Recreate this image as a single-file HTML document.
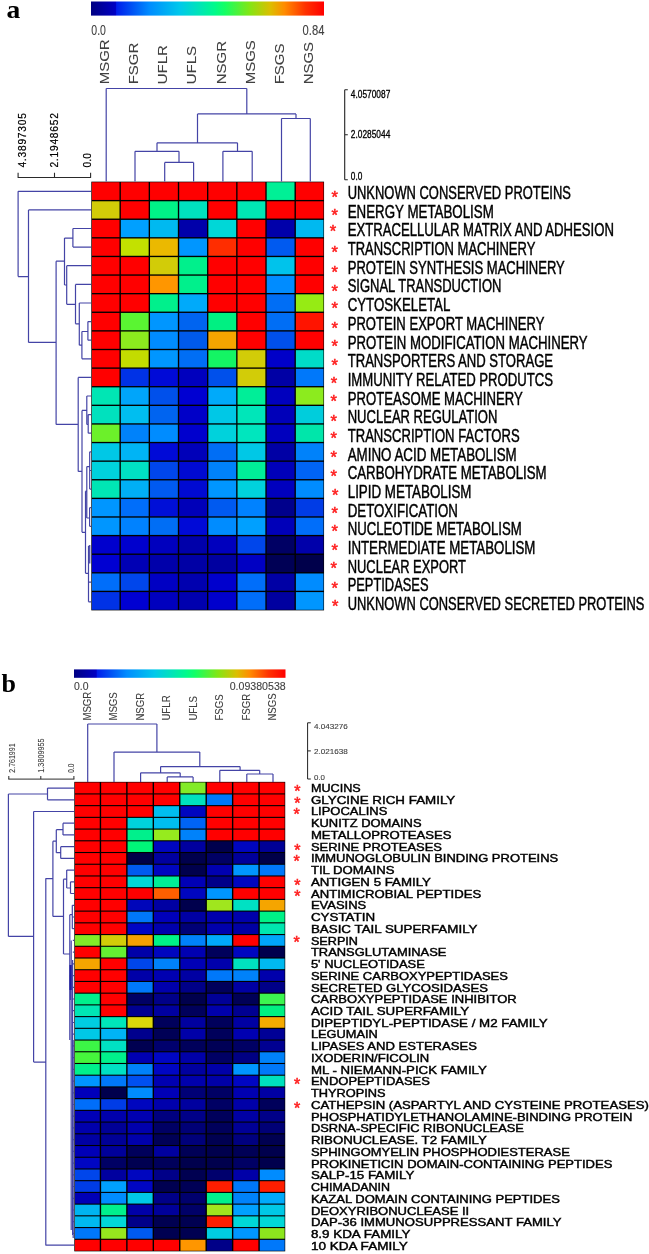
<!DOCTYPE html><html><head><meta charset="utf-8"><title>Heatmaps</title>
<style>html,body{margin:0;padding:0;background:#fff}svg{display:block}text{font-family:"Liberation Sans",sans-serif;fill:#000;stroke:#000;stroke-width:.3px}.ser{font-family:"Liberation Serif",serif;font-weight:bold;fill:#000;stroke:none}.st{fill:#ff2020;stroke:#ff2020;stroke-width:.55px}.sm{stroke-width:.2px}.gr{fill:#404040;stroke:#404040;stroke-width:.1px}.la{stroke-width:.45px}.bl{stroke-width:.42px}</style></head><body>
<svg width="649" height="1254" viewBox="0 0 649 1254">
<defs>
<linearGradient id="jet" x1="0" x2="1" y1="0" y2="0">
<stop offset="0.000" stop-color="#000082"/>
<stop offset="0.105" stop-color="#0000c3"/>
<stop offset="0.110" stop-color="#001eeb"/>
<stop offset="0.250" stop-color="#008cff"/>
<stop offset="0.380" stop-color="#00c8eb"/>
<stop offset="0.470" stop-color="#00e6b4"/>
<stop offset="0.530" stop-color="#00fa8c"/>
<stop offset="0.575" stop-color="#14ff64"/>
<stop offset="0.680" stop-color="#82e614"/>
<stop offset="0.770" stop-color="#dcbe00"/>
<stop offset="0.830" stop-color="#ff8c00"/>
<stop offset="0.920" stop-color="#ff3200"/>
<stop offset="1.000" stop-color="#ff0000"/>
</linearGradient></defs>
<rect width="649" height="1254" fill="#fff"/>
<text class="ser" x="6.5" y="17.7" font-size="25.2" textLength="13.8" lengthAdjust="spacingAndGlyphs">a</text>
<rect x="91" y="1.5" width="233" height="14.1" fill="url(#jet)"/>
<text class="gr" x="91.3" y="35.3" font-size="15.2" textLength="14.6" lengthAdjust="spacingAndGlyphs">0.0</text>
<text class="gr" x="302.6" y="35.3" font-size="15.2" textLength="21.8" lengthAdjust="spacingAndGlyphs">0.84</text>
<text class="gr" transform="translate(108.8 84.3) rotate(-90)" font-size="12.8" textLength="44.9" lengthAdjust="spacingAndGlyphs">MSGR</text>
<text class="gr" transform="translate(138.0 84.3) rotate(-90)" font-size="12.8" textLength="41.6" lengthAdjust="spacingAndGlyphs">FSGR</text>
<text class="gr" transform="translate(167.1 84.3) rotate(-90)" font-size="12.8" textLength="39.1" lengthAdjust="spacingAndGlyphs">UFLR</text>
<text class="gr" transform="translate(196.3 84.3) rotate(-90)" font-size="12.8" textLength="38.3" lengthAdjust="spacingAndGlyphs">UFLS</text>
<text class="gr" transform="translate(225.5 84.3) rotate(-90)" font-size="12.8" textLength="43.3" lengthAdjust="spacingAndGlyphs">NSGR</text>
<text class="gr" transform="translate(254.6 84.3) rotate(-90)" font-size="12.8" textLength="44.1" lengthAdjust="spacingAndGlyphs">MSGS</text>
<text class="gr" transform="translate(283.8 84.3) rotate(-90)" font-size="12.8" textLength="40.8" lengthAdjust="spacingAndGlyphs">FSGS</text>
<text class="gr" transform="translate(313.0 84.3) rotate(-90)" font-size="12.8" textLength="42.4" lengthAdjust="spacingAndGlyphs">NSGS</text>
<g>
<rect x="91.30" y="181.65" width="232.76" height="428.73" fill="#000"/>
<rect x="91.90" y="182.25" width="27.59" height="17.69" fill="#ff0000"/>
<rect x="120.84" y="182.25" width="27.82" height="17.69" fill="#ff0000"/>
<rect x="150.02" y="182.25" width="27.82" height="17.69" fill="#ff0000"/>
<rect x="179.19" y="182.25" width="27.82" height="17.69" fill="#ff0000"/>
<rect x="208.36" y="182.25" width="27.82" height="17.69" fill="#ff0000"/>
<rect x="237.53" y="182.25" width="27.82" height="17.69" fill="#ff0000"/>
<rect x="266.69" y="182.25" width="27.82" height="17.69" fill="#00f096"/>
<rect x="295.87" y="182.25" width="27.60" height="17.69" fill="#ff0000"/>
<rect x="91.90" y="201.29" width="27.59" height="17.26" fill="#d2cc08"/>
<rect x="120.84" y="201.29" width="27.82" height="17.26" fill="#ff0000"/>
<rect x="150.02" y="201.29" width="27.82" height="17.26" fill="#00f287"/>
<rect x="179.19" y="201.29" width="27.82" height="17.26" fill="#00e1be"/>
<rect x="208.36" y="201.29" width="27.82" height="17.26" fill="#ff0000"/>
<rect x="237.53" y="201.29" width="27.82" height="17.26" fill="#00e6b4"/>
<rect x="266.69" y="201.29" width="27.82" height="17.26" fill="#ff0000"/>
<rect x="295.87" y="201.29" width="27.60" height="17.26" fill="#ff0000"/>
<rect x="91.90" y="219.90" width="27.59" height="17.26" fill="#ff0000"/>
<rect x="120.84" y="219.90" width="27.82" height="17.26" fill="#00a0ff"/>
<rect x="150.02" y="219.90" width="27.82" height="17.26" fill="#00b9f0"/>
<rect x="179.19" y="219.90" width="27.82" height="17.26" fill="#0000aa"/>
<rect x="208.36" y="219.90" width="27.82" height="17.26" fill="#00d7d7"/>
<rect x="237.53" y="219.90" width="27.82" height="17.26" fill="#ff0000"/>
<rect x="266.69" y="219.90" width="27.82" height="17.26" fill="#0000aa"/>
<rect x="295.87" y="219.90" width="27.60" height="17.26" fill="#00b9f0"/>
<rect x="91.90" y="238.50" width="27.59" height="17.26" fill="#ff0000"/>
<rect x="120.84" y="238.50" width="27.82" height="17.26" fill="#c3e100"/>
<rect x="150.02" y="238.50" width="27.82" height="17.26" fill="#ebb900"/>
<rect x="179.19" y="238.50" width="27.82" height="17.26" fill="#0096ff"/>
<rect x="208.36" y="238.50" width="27.82" height="17.26" fill="#ff2d00"/>
<rect x="237.53" y="238.50" width="27.82" height="17.26" fill="#ff0000"/>
<rect x="266.69" y="238.50" width="27.82" height="17.26" fill="#005af0"/>
<rect x="295.87" y="238.50" width="27.60" height="17.26" fill="#ff0000"/>
<rect x="91.90" y="257.12" width="27.59" height="17.26" fill="#ff0000"/>
<rect x="120.84" y="257.12" width="27.82" height="17.26" fill="#ff0000"/>
<rect x="150.02" y="257.12" width="27.82" height="17.26" fill="#d2cc08"/>
<rect x="179.19" y="257.12" width="27.82" height="17.26" fill="#00f08c"/>
<rect x="208.36" y="257.12" width="27.82" height="17.26" fill="#ff0000"/>
<rect x="237.53" y="257.12" width="27.82" height="17.26" fill="#ff0000"/>
<rect x="266.69" y="257.12" width="27.82" height="17.26" fill="#00c3eb"/>
<rect x="295.87" y="257.12" width="27.60" height="17.26" fill="#ff0000"/>
<rect x="91.90" y="275.73" width="27.59" height="17.26" fill="#ff0000"/>
<rect x="120.84" y="275.73" width="27.82" height="17.26" fill="#ff0000"/>
<rect x="150.02" y="275.73" width="27.82" height="17.26" fill="#ff9600"/>
<rect x="179.19" y="275.73" width="27.82" height="17.26" fill="#00f08c"/>
<rect x="208.36" y="275.73" width="27.82" height="17.26" fill="#ff0000"/>
<rect x="237.53" y="275.73" width="27.82" height="17.26" fill="#ff0000"/>
<rect x="266.69" y="275.73" width="27.82" height="17.26" fill="#008cff"/>
<rect x="295.87" y="275.73" width="27.60" height="17.26" fill="#ff0000"/>
<rect x="91.90" y="294.33" width="27.59" height="17.26" fill="#ff0000"/>
<rect x="120.84" y="294.33" width="27.82" height="17.26" fill="#ff0000"/>
<rect x="150.02" y="294.33" width="27.82" height="17.26" fill="#00f08c"/>
<rect x="179.19" y="294.33" width="27.82" height="17.26" fill="#00aafa"/>
<rect x="208.36" y="294.33" width="27.82" height="17.26" fill="#ff0000"/>
<rect x="237.53" y="294.33" width="27.82" height="17.26" fill="#ff0000"/>
<rect x="266.69" y="294.33" width="27.82" height="17.26" fill="#006ef5"/>
<rect x="295.87" y="294.33" width="27.60" height="17.26" fill="#96eb14"/>
<rect x="91.90" y="312.94" width="27.59" height="17.26" fill="#ff0000"/>
<rect x="120.84" y="312.94" width="27.82" height="17.26" fill="#5af532"/>
<rect x="150.02" y="312.94" width="27.82" height="17.26" fill="#0096ff"/>
<rect x="179.19" y="312.94" width="27.82" height="17.26" fill="#0064f0"/>
<rect x="208.36" y="312.94" width="27.82" height="17.26" fill="#00f082"/>
<rect x="237.53" y="312.94" width="27.82" height="17.26" fill="#ff0000"/>
<rect x="266.69" y="312.94" width="27.82" height="17.26" fill="#006ef5"/>
<rect x="295.87" y="312.94" width="27.60" height="17.26" fill="#ff1400"/>
<rect x="91.90" y="331.56" width="27.59" height="17.26" fill="#ff0000"/>
<rect x="120.84" y="331.56" width="27.82" height="17.26" fill="#8ceb1e"/>
<rect x="150.02" y="331.56" width="27.82" height="17.26" fill="#008cff"/>
<rect x="179.19" y="331.56" width="27.82" height="17.26" fill="#005aeb"/>
<rect x="208.36" y="331.56" width="27.82" height="17.26" fill="#f5a500"/>
<rect x="237.53" y="331.56" width="27.82" height="17.26" fill="#ff0000"/>
<rect x="266.69" y="331.56" width="27.82" height="17.26" fill="#0050eb"/>
<rect x="295.87" y="331.56" width="27.60" height="17.26" fill="#ff0000"/>
<rect x="91.90" y="350.17" width="27.59" height="17.26" fill="#ff0000"/>
<rect x="120.84" y="350.17" width="27.82" height="17.26" fill="#c3dc00"/>
<rect x="150.02" y="350.17" width="27.82" height="17.26" fill="#0096ff"/>
<rect x="179.19" y="350.17" width="27.82" height="17.26" fill="#006ef5"/>
<rect x="208.36" y="350.17" width="27.82" height="17.26" fill="#14f564"/>
<rect x="237.53" y="350.17" width="27.82" height="17.26" fill="#d2cc08"/>
<rect x="266.69" y="350.17" width="27.82" height="17.26" fill="#0000c8"/>
<rect x="295.87" y="350.17" width="27.60" height="17.26" fill="#00dcc8"/>
<rect x="91.90" y="368.78" width="27.59" height="17.26" fill="#ff0000"/>
<rect x="120.84" y="368.78" width="27.82" height="17.26" fill="#0032e6"/>
<rect x="150.02" y="368.78" width="27.82" height="17.26" fill="#000ad7"/>
<rect x="179.19" y="368.78" width="27.82" height="17.26" fill="#0000be"/>
<rect x="208.36" y="368.78" width="27.82" height="17.26" fill="#0050eb"/>
<rect x="237.53" y="368.78" width="27.82" height="17.26" fill="#d2cc08"/>
<rect x="266.69" y="368.78" width="27.82" height="17.26" fill="#0000a5"/>
<rect x="295.87" y="368.78" width="27.60" height="17.26" fill="#0078fa"/>
<rect x="91.90" y="387.38" width="27.59" height="17.26" fill="#00e6b4"/>
<rect x="120.84" y="387.38" width="27.82" height="17.26" fill="#00a5fa"/>
<rect x="150.02" y="387.38" width="27.82" height="17.26" fill="#0050eb"/>
<rect x="179.19" y="387.38" width="27.82" height="17.26" fill="#0000d2"/>
<rect x="208.36" y="387.38" width="27.82" height="17.26" fill="#00aafa"/>
<rect x="237.53" y="387.38" width="27.82" height="17.26" fill="#00ee98"/>
<rect x="266.69" y="387.38" width="27.82" height="17.26" fill="#0000be"/>
<rect x="295.87" y="387.38" width="27.60" height="17.26" fill="#8ceb1e"/>
<rect x="91.90" y="406.00" width="27.59" height="17.26" fill="#00e1be"/>
<rect x="120.84" y="406.00" width="27.82" height="17.26" fill="#00bef0"/>
<rect x="150.02" y="406.00" width="27.82" height="17.26" fill="#0064f0"/>
<rect x="179.19" y="406.00" width="27.82" height="17.26" fill="#0000c8"/>
<rect x="208.36" y="406.00" width="27.82" height="17.26" fill="#00c8e6"/>
<rect x="237.53" y="406.00" width="27.82" height="17.26" fill="#00e6b9"/>
<rect x="266.69" y="406.00" width="27.82" height="17.26" fill="#0000b9"/>
<rect x="295.87" y="406.00" width="27.60" height="17.26" fill="#00cddc"/>
<rect x="91.90" y="424.61" width="27.59" height="17.26" fill="#6cf02a"/>
<rect x="120.84" y="424.61" width="27.82" height="17.26" fill="#0082fa"/>
<rect x="150.02" y="424.61" width="27.82" height="17.26" fill="#008cff"/>
<rect x="179.19" y="424.61" width="27.82" height="17.26" fill="#0000cd"/>
<rect x="208.36" y="424.61" width="27.82" height="17.26" fill="#00d2dc"/>
<rect x="237.53" y="424.61" width="27.82" height="17.26" fill="#00e6be"/>
<rect x="266.69" y="424.61" width="27.82" height="17.26" fill="#0000be"/>
<rect x="295.87" y="424.61" width="27.60" height="17.26" fill="#00e6aa"/>
<rect x="91.90" y="443.21" width="27.59" height="17.26" fill="#00c8e6"/>
<rect x="120.84" y="443.21" width="27.82" height="17.26" fill="#00b4f5"/>
<rect x="150.02" y="443.21" width="27.82" height="17.26" fill="#000ad7"/>
<rect x="179.19" y="443.21" width="27.82" height="17.26" fill="#0000b9"/>
<rect x="208.36" y="443.21" width="27.82" height="17.26" fill="#006ef5"/>
<rect x="237.53" y="443.21" width="27.82" height="17.26" fill="#00c8e6"/>
<rect x="266.69" y="443.21" width="27.82" height="17.26" fill="#0000a5"/>
<rect x="295.87" y="443.21" width="27.60" height="17.26" fill="#0082fa"/>
<rect x="91.90" y="461.82" width="27.59" height="17.26" fill="#00d2dc"/>
<rect x="120.84" y="461.82" width="27.82" height="17.26" fill="#00e1c3"/>
<rect x="150.02" y="461.82" width="27.82" height="17.26" fill="#0046eb"/>
<rect x="179.19" y="461.82" width="27.82" height="17.26" fill="#000ad2"/>
<rect x="208.36" y="461.82" width="27.82" height="17.26" fill="#0082fa"/>
<rect x="237.53" y="461.82" width="27.82" height="17.26" fill="#00ee98"/>
<rect x="266.69" y="461.82" width="27.82" height="17.26" fill="#0000b9"/>
<rect x="295.87" y="461.82" width="27.60" height="17.26" fill="#0064f5"/>
<rect x="91.90" y="480.44" width="27.59" height="17.26" fill="#00e6b4"/>
<rect x="120.84" y="480.44" width="27.82" height="17.26" fill="#00aff5"/>
<rect x="150.02" y="480.44" width="27.82" height="17.26" fill="#005af0"/>
<rect x="179.19" y="480.44" width="27.82" height="17.26" fill="#000ad2"/>
<rect x="208.36" y="480.44" width="27.82" height="17.26" fill="#0096ff"/>
<rect x="237.53" y="480.44" width="27.82" height="17.26" fill="#00d2dc"/>
<rect x="266.69" y="480.44" width="27.82" height="17.26" fill="#0000be"/>
<rect x="295.87" y="480.44" width="27.60" height="17.26" fill="#008cff"/>
<rect x="91.90" y="499.05" width="27.59" height="17.26" fill="#0096ff"/>
<rect x="120.84" y="499.05" width="27.82" height="17.26" fill="#006efa"/>
<rect x="150.02" y="499.05" width="27.82" height="17.26" fill="#000fd7"/>
<rect x="179.19" y="499.05" width="27.82" height="17.26" fill="#0000b9"/>
<rect x="208.36" y="499.05" width="27.82" height="17.26" fill="#005af0"/>
<rect x="237.53" y="499.05" width="27.82" height="17.26" fill="#0082ff"/>
<rect x="266.69" y="499.05" width="27.82" height="17.26" fill="#00008c"/>
<rect x="295.87" y="499.05" width="27.60" height="17.26" fill="#003ce6"/>
<rect x="91.90" y="517.65" width="27.59" height="17.26" fill="#0096ff"/>
<rect x="120.84" y="517.65" width="27.82" height="17.26" fill="#0082ff"/>
<rect x="150.02" y="517.65" width="27.82" height="17.26" fill="#006ef5"/>
<rect x="179.19" y="517.65" width="27.82" height="17.26" fill="#000ad7"/>
<rect x="208.36" y="517.65" width="27.82" height="17.26" fill="#008cff"/>
<rect x="237.53" y="517.65" width="27.82" height="17.26" fill="#00a0ff"/>
<rect x="266.69" y="517.65" width="27.82" height="17.26" fill="#0000b9"/>
<rect x="295.87" y="517.65" width="27.60" height="17.26" fill="#006efa"/>
<rect x="91.90" y="536.26" width="27.59" height="17.26" fill="#0000cd"/>
<rect x="120.84" y="536.26" width="27.82" height="17.26" fill="#0000cd"/>
<rect x="150.02" y="536.26" width="27.82" height="17.26" fill="#0000be"/>
<rect x="179.19" y="536.26" width="27.82" height="17.26" fill="#0000aa"/>
<rect x="208.36" y="536.26" width="27.82" height="17.26" fill="#0000be"/>
<rect x="237.53" y="536.26" width="27.82" height="17.26" fill="#0046eb"/>
<rect x="266.69" y="536.26" width="27.82" height="17.26" fill="#000064"/>
<rect x="295.87" y="536.26" width="27.60" height="17.26" fill="#0000aa"/>
<rect x="91.90" y="554.88" width="27.59" height="17.26" fill="#0000d2"/>
<rect x="120.84" y="554.88" width="27.82" height="17.26" fill="#0000b4"/>
<rect x="150.02" y="554.88" width="27.82" height="17.26" fill="#0000aa"/>
<rect x="179.19" y="554.88" width="27.82" height="17.26" fill="#0000a5"/>
<rect x="208.36" y="554.88" width="27.82" height="17.26" fill="#0000a0"/>
<rect x="237.53" y="554.88" width="27.82" height="17.26" fill="#0000c3"/>
<rect x="266.69" y="554.88" width="27.82" height="17.26" fill="#000055"/>
<rect x="295.87" y="554.88" width="27.60" height="17.26" fill="#00004b"/>
<rect x="91.90" y="573.48" width="27.59" height="17.26" fill="#006efa"/>
<rect x="120.84" y="573.48" width="27.82" height="17.26" fill="#0046eb"/>
<rect x="150.02" y="573.48" width="27.82" height="17.26" fill="#0000c3"/>
<rect x="179.19" y="573.48" width="27.82" height="17.26" fill="#0000af"/>
<rect x="208.36" y="573.48" width="27.82" height="17.26" fill="#0000cd"/>
<rect x="237.53" y="573.48" width="27.82" height="17.26" fill="#006efa"/>
<rect x="266.69" y="573.48" width="27.82" height="17.26" fill="#0000a5"/>
<rect x="295.87" y="573.48" width="27.60" height="17.26" fill="#008cff"/>
<rect x="91.90" y="592.09" width="27.59" height="17.69" fill="#0032e6"/>
<rect x="120.84" y="592.09" width="27.82" height="17.69" fill="#0000d2"/>
<rect x="150.02" y="592.09" width="27.82" height="17.69" fill="#0000be"/>
<rect x="179.19" y="592.09" width="27.82" height="17.69" fill="#0000af"/>
<rect x="208.36" y="592.09" width="27.82" height="17.69" fill="#0000cd"/>
<rect x="237.53" y="592.09" width="27.82" height="17.69" fill="#006efa"/>
<rect x="266.69" y="592.09" width="27.82" height="17.69" fill="#0000a0"/>
<rect x="295.87" y="592.09" width="27.60" height="17.69" fill="#0096ff"/>
</g>
<path d="M106.2 88.5L106.2 181.5M106.2 88.5L246.8 88.5M246.8 88.5L246.8 113.9M197.5 113.9L296.0 113.9M296.0 113.9L296.0 118.5M281.5 118.5L310.3 118.5M281.5 118.5L281.5 181.5M310.3 118.5L310.3 181.5M197.5 113.9L197.5 142.8M157.0 142.8L237.5 142.8M157.0 142.8L157.0 151.3M135.0 151.3L179.0 151.3M135.0 151.3L135.0 181.5M179.0 151.3L179.0 162.4M164.7 162.4L193.6 162.4M164.7 162.4L164.7 181.5M193.6 162.4L193.6 181.5M237.5 142.8L237.5 151.3M222.9 151.3L252.2 151.3M222.9 151.3L222.9 181.5M252.2 151.3L252.2 181.5" stroke="#4444a6" stroke-width="1.20" fill="none" opacity="1"/>
<path d="M18.1 191.3L91.0 191.3M18.1 191.3L18.1 276.6M18.1 276.6L28.5 276.6M28.5 209.9L28.5 342.4M28.5 209.9L91.0 209.9M72.9 228.5L91.0 228.5M72.9 247.1L91.0 247.1M72.9 228.5L72.9 247.1M64.5 238.1L72.9 238.1M64.5 238.1L64.5 285.0M56.1 261.2L64.5 261.2M56.1 261.2L56.1 424.4M28.5 342.4L56.1 342.4M66.7 265.7L91.0 265.7M66.7 265.7L66.7 304.3M64.5 285.0L66.7 285.0M75.5 284.4L91.0 284.4M75.5 284.4L75.5 323.8M66.7 304.3L75.5 304.3M79.3 303.0L91.0 303.0M79.3 303.0L79.3 345.2M75.5 323.8L79.3 323.8M79.3 345.2L81.9 345.2M81.9 331.5L81.9 358.8M81.9 358.8L91.0 358.8M81.9 331.5L87.9 331.5M87.9 321.6L87.9 340.2M87.9 321.6L91.0 321.6M87.9 340.2L91.0 340.2M56.1 424.4L78.2 424.4M78.2 377.4L78.2 471.4M78.2 377.4L91.0 377.4M78.2 471.4L82.0 471.4M82.0 410.4L82.0 532.3M82.0 410.4L86.8 410.4M86.8 396.0L86.8 424.5M86.8 396.0L91.0 396.0M86.8 424.5L88.2 424.5M88.2 414.6L88.2 433.2M88.2 414.6L91.0 414.6M88.2 433.2L91.0 433.2M82.0 532.3L85.5 532.3M85.5 491.2L85.5 573.3M85.5 491.2L86.8 491.2M86.8 466.6L86.8 518.0M86.8 466.6L89.7 466.6M89.7 451.8L89.7 489.1M89.7 451.8L91.0 451.8M89.7 470.5L91.0 470.5M89.7 489.1L91.0 489.1M86.8 518.0L89.6 518.0M89.6 507.7L89.6 526.3M89.6 507.7L91.0 507.7M89.6 526.3L91.0 526.3M85.5 573.3L88.5 573.3M88.5 546.0L88.5 601.8M88.5 546.0L89.8 546.0M89.8 544.9L89.8 563.5M88.5 601.8L91.0 601.8M88.5 582.1L91.0 582.1" stroke="#4444a6" stroke-width="1.20" fill="none" opacity="1"/>
<path d="M17.6 177.5L91.1 177.5M18.1 172.8L18.1 177.5M54.5 172.8L54.5 177.5M90.6 172.8L90.6 177.5" stroke="#2a2a2a" stroke-width="1.10" fill="none" opacity="1"/>
<text class="sm" transform="translate(26.0 167.6) rotate(-90)" font-size="10.2" textLength="54.5" lengthAdjust="spacing">4.3897305</text>
<text class="sm" transform="translate(58.4 167.6) rotate(-90)" font-size="10.2" textLength="54.5" lengthAdjust="spacing">2.1948652</text>
<text class="sm" transform="translate(90.9 167.6) rotate(-90)" font-size="10.2" textLength="14.5" lengthAdjust="spacing">0.0</text>
<path d="M344.7 89.8L344.7 179.8M344.7 89.8L347.8 89.8M344.7 134.7L347.8 134.7M344.7 179.8L347.8 179.8" stroke="#222" stroke-width="1.10" fill="none" opacity="1"/>
<text x="350.8" y="97.6" font-size="10" textLength="39.5" lengthAdjust="spacingAndGlyphs">4.0570087</text>
<text x="350.8" y="138.4" font-size="10" textLength="39.5" lengthAdjust="spacingAndGlyphs">2.0285044</text>
<text x="350.8" y="180.2" font-size="10" textLength="11.5" lengthAdjust="spacingAndGlyphs">0.0</text>
<text x="347.7" y="198.9" class="la" font-size="18" textLength="223.2" lengthAdjust="spacingAndGlyphs">UNKNOWN CONSERVED PROTEINS</text>
<text class="st" x="331.4" y="202.9" font-size="16.5">*</text>
<text x="347.7" y="217.6" class="la" font-size="18" textLength="146.1" lengthAdjust="spacingAndGlyphs">ENERGY METABOLISM</text>
<text class="st" x="331.4" y="220.5" font-size="16.5">*</text>
<text x="347.7" y="236.3" class="la" font-size="18" textLength="266.3" lengthAdjust="spacingAndGlyphs">EXTRACELLULAR MATRIX AND ADHESION</text>
<text class="st" x="329.8" y="237.1" font-size="16.5">*</text>
<text x="347.7" y="255.0" class="la" font-size="18" textLength="187.7" lengthAdjust="spacingAndGlyphs">TRANSCRIPTION MACHINERY</text>
<text class="st" x="331.4" y="257.8" font-size="16.5">*</text>
<text x="347.7" y="273.7" class="la" font-size="18" textLength="217.1" lengthAdjust="spacingAndGlyphs">PROTEIN SYNTHESIS MACHINERY</text>
<text class="st" x="331.4" y="278.0" font-size="16.5">*</text>
<text x="347.7" y="292.4" class="la" font-size="18" textLength="153.7" lengthAdjust="spacingAndGlyphs">SIGNAL TRANSDUCTION</text>
<text class="st" x="331.4" y="296.8" font-size="16.5">*</text>
<text x="347.7" y="311.1" class="la" font-size="18" textLength="102.6" lengthAdjust="spacingAndGlyphs">CYTOSKELETAL</text>
<text class="st" x="331.4" y="313.5" font-size="16.5">*</text>
<text x="347.7" y="329.8" class="la" font-size="18" textLength="196.8" lengthAdjust="spacingAndGlyphs">PROTEIN EXPORT MACHINERY</text>
<text class="st" x="331.4" y="333.6" font-size="16.5">*</text>
<text x="347.7" y="348.5" class="la" font-size="18" textLength="239.9" lengthAdjust="spacingAndGlyphs">PROTEIN MODIFICATION MACHINERY</text>
<text class="st" x="331.4" y="352.1" font-size="16.5">*</text>
<text x="347.7" y="367.2" class="la" font-size="18" textLength="205.4" lengthAdjust="spacingAndGlyphs">TRANSPORTERS AND STORAGE</text>
<text class="st" x="331.4" y="371.4" font-size="16.5">*</text>
<text x="347.7" y="385.8" class="la" font-size="18" textLength="205.4" lengthAdjust="spacingAndGlyphs">IMMUNITY RELATED PRODUTCS</text>
<text class="st" x="330.7" y="388.9" font-size="16.5">*</text>
<text x="347.7" y="404.5" class="la" font-size="18" textLength="175.0" lengthAdjust="spacingAndGlyphs">PROTEASOME MACHINERY</text>
<text class="st" x="330.6" y="406.7" font-size="16.5">*</text>
<text x="347.7" y="423.2" class="la" font-size="18" textLength="149.7" lengthAdjust="spacingAndGlyphs">NUCLEAR REGULATION</text>
<text class="st" x="330.5" y="426.7" font-size="16.5">*</text>
<text x="347.7" y="441.9" class="la" font-size="18" textLength="172.0" lengthAdjust="spacingAndGlyphs">TRANSCRIPTION FACTORS</text>
<text class="st" x="330.5" y="443.8" font-size="16.5">*</text>
<text x="347.7" y="460.6" class="la" font-size="18" textLength="169.0" lengthAdjust="spacingAndGlyphs">AMINO ACID METABOLISM</text>
<text class="st" x="330.5" y="462.6" font-size="16.5">*</text>
<text x="347.7" y="479.3" class="la" font-size="18" textLength="198.9" lengthAdjust="spacingAndGlyphs">CARBOHYDRATE METABOLISM</text>
<text class="st" x="330.5" y="481.8" font-size="16.5">*</text>
<text x="347.7" y="498.0" class="la" font-size="18" textLength="123.8" lengthAdjust="spacingAndGlyphs">LIPID METABOLISM</text>
<text class="st" x="331.9" y="501.2" font-size="16.5">*</text>
<text x="347.7" y="516.7" class="la" font-size="18" textLength="110.2" lengthAdjust="spacingAndGlyphs">DETOXIFICATION</text>
<text class="st" x="331.4" y="519.1" font-size="16.5">*</text>
<text x="347.7" y="535.4" class="la" font-size="18" textLength="174.0" lengthAdjust="spacingAndGlyphs">NUCLEOTIDE METABOLISM</text>
<text class="st" x="331.4" y="537.1" font-size="16.5">*</text>
<text x="347.7" y="554.1" class="la" font-size="18" textLength="187.7" lengthAdjust="spacingAndGlyphs">INTERMEDIATE METABOLISM</text>
<text class="st" x="331.4" y="556.4" font-size="16.5">*</text>
<text x="347.7" y="572.8" class="la" font-size="18" textLength="118.3" lengthAdjust="spacingAndGlyphs">NUCLEAR EXPORT</text>
<text class="st" x="330.6" y="573.9" font-size="16.5">*</text>
<text x="347.7" y="591.4" class="la" font-size="18" textLength="80.8" lengthAdjust="spacingAndGlyphs">PEPTIDASES</text>
<text class="st" x="331.4" y="593.6" font-size="16.5">*</text>
<text x="347.7" y="610.1" class="la" font-size="18" textLength="296.7" lengthAdjust="spacingAndGlyphs">UNKNOWN CONSERVED SECRETED PROTEINS</text>
<text class="st" x="331.9" y="611.5" font-size="16.5">*</text>
<text class="ser" x="1.5" y="692" font-size="26">b</text>
<rect x="74" y="669.4" width="211.5" height="8.4" fill="url(#jet)"/>
<text class="gr" x="74" y="690.3" font-size="10.6" textLength="14.5" lengthAdjust="spacingAndGlyphs">0.0</text>
<text class="gr" x="229.7" y="690.3" font-size="10.6" textLength="56" lengthAdjust="spacingAndGlyphs">0.09380538</text>
<text class="gr" transform="translate(90.8 720.6) rotate(-90)" font-size="10.2" textLength="28.9" lengthAdjust="spacingAndGlyphs">MSGR</text>
<text class="gr" transform="translate(117.3 720.6) rotate(-90)" font-size="10.2" textLength="28.4" lengthAdjust="spacingAndGlyphs">MSGS</text>
<text class="gr" transform="translate(143.7 720.6) rotate(-90)" font-size="10.2" textLength="27.8" lengthAdjust="spacingAndGlyphs">NSGR</text>
<text class="gr" transform="translate(170.1 720.6) rotate(-90)" font-size="10.2" textLength="25.2" lengthAdjust="spacingAndGlyphs">UFLR</text>
<text class="gr" transform="translate(196.6 720.6) rotate(-90)" font-size="10.2" textLength="24.6" lengthAdjust="spacingAndGlyphs">UFLS</text>
<text class="gr" transform="translate(223.0 720.6) rotate(-90)" font-size="10.2" textLength="26.2" lengthAdjust="spacingAndGlyphs">FSGS</text>
<text class="gr" transform="translate(249.5 720.6) rotate(-90)" font-size="10.2" textLength="26.8" lengthAdjust="spacingAndGlyphs">FSGR</text>
<text class="gr" transform="translate(275.9 720.6) rotate(-90)" font-size="10.2" textLength="27.3" lengthAdjust="spacingAndGlyphs">NSGS</text>
<g>
<rect x="74.30" y="781.85" width="210.92" height="469.50" fill="#000"/>
<rect x="74.90" y="782.45" width="24.84" height="10.92" fill="#ff0000"/>
<rect x="101.14" y="782.45" width="25.04" height="10.92" fill="#ff0000"/>
<rect x="127.58" y="782.45" width="25.04" height="10.92" fill="#ff0000"/>
<rect x="154.02" y="782.45" width="25.04" height="10.92" fill="#ff0000"/>
<rect x="180.46" y="782.45" width="25.04" height="10.92" fill="#82eb28"/>
<rect x="206.90" y="782.45" width="25.04" height="10.92" fill="#ff0000"/>
<rect x="233.34" y="782.45" width="25.04" height="10.92" fill="#ff0000"/>
<rect x="259.78" y="782.45" width="24.84" height="10.92" fill="#ff0000"/>
<rect x="74.90" y="794.47" width="24.84" height="10.62" fill="#ff0000"/>
<rect x="101.14" y="794.47" width="25.04" height="10.62" fill="#ff0000"/>
<rect x="127.58" y="794.47" width="25.04" height="10.62" fill="#ff0000"/>
<rect x="154.02" y="794.47" width="25.04" height="10.62" fill="#ff0000"/>
<rect x="180.46" y="794.47" width="25.04" height="10.62" fill="#00e1be"/>
<rect x="206.90" y="794.47" width="25.04" height="10.62" fill="#0078fa"/>
<rect x="233.34" y="794.47" width="25.04" height="10.62" fill="#ff0000"/>
<rect x="259.78" y="794.47" width="24.84" height="10.62" fill="#ff0000"/>
<rect x="74.90" y="806.19" width="24.84" height="10.62" fill="#ff0000"/>
<rect x="101.14" y="806.19" width="25.04" height="10.62" fill="#ff0000"/>
<rect x="127.58" y="806.19" width="25.04" height="10.62" fill="#ff0000"/>
<rect x="154.02" y="806.19" width="25.04" height="10.62" fill="#00bef0"/>
<rect x="180.46" y="806.19" width="25.04" height="10.62" fill="#0006bf"/>
<rect x="206.90" y="806.19" width="25.04" height="10.62" fill="#ff0000"/>
<rect x="233.34" y="806.19" width="25.04" height="10.62" fill="#ff0000"/>
<rect x="259.78" y="806.19" width="24.84" height="10.62" fill="#ff0000"/>
<rect x="74.90" y="817.91" width="24.84" height="10.62" fill="#ff0000"/>
<rect x="101.14" y="817.91" width="25.04" height="10.62" fill="#ff0000"/>
<rect x="127.58" y="817.91" width="25.04" height="10.62" fill="#00d2dc"/>
<rect x="154.02" y="817.91" width="25.04" height="10.62" fill="#00bef0"/>
<rect x="180.46" y="817.91" width="25.04" height="10.62" fill="#0064f5"/>
<rect x="206.90" y="817.91" width="25.04" height="10.62" fill="#ff0000"/>
<rect x="233.34" y="817.91" width="25.04" height="10.62" fill="#ff0000"/>
<rect x="259.78" y="817.91" width="24.84" height="10.62" fill="#ff0000"/>
<rect x="74.90" y="829.63" width="24.84" height="10.62" fill="#ff0000"/>
<rect x="101.14" y="829.63" width="25.04" height="10.62" fill="#ff0000"/>
<rect x="127.58" y="829.63" width="25.04" height="10.62" fill="#00f08c"/>
<rect x="154.02" y="829.63" width="25.04" height="10.62" fill="#96eb1e"/>
<rect x="180.46" y="829.63" width="25.04" height="10.62" fill="#0082fa"/>
<rect x="206.90" y="829.63" width="25.04" height="10.62" fill="#ff0000"/>
<rect x="233.34" y="829.63" width="25.04" height="10.62" fill="#ff0000"/>
<rect x="259.78" y="829.63" width="24.84" height="10.62" fill="#ff0000"/>
<rect x="74.90" y="841.35" width="24.84" height="10.62" fill="#ff0000"/>
<rect x="101.14" y="841.35" width="25.04" height="10.62" fill="#ff0000"/>
<rect x="127.58" y="841.35" width="25.04" height="10.62" fill="#00f578"/>
<rect x="154.02" y="841.35" width="25.04" height="10.62" fill="#0006bf"/>
<rect x="180.46" y="841.35" width="25.04" height="10.62" fill="#00009f"/>
<rect x="206.90" y="841.35" width="25.04" height="10.62" fill="#00004d"/>
<rect x="233.34" y="841.35" width="25.04" height="10.62" fill="#0006bf"/>
<rect x="259.78" y="841.35" width="24.84" height="10.62" fill="#000096"/>
<rect x="74.90" y="853.07" width="24.84" height="10.62" fill="#ff0000"/>
<rect x="101.14" y="853.07" width="25.04" height="10.62" fill="#ff0000"/>
<rect x="127.58" y="853.07" width="25.04" height="10.62" fill="#000048"/>
<rect x="154.02" y="853.07" width="25.04" height="10.62" fill="#00009f"/>
<rect x="180.46" y="853.07" width="25.04" height="10.62" fill="#00004d"/>
<rect x="206.90" y="853.07" width="25.04" height="10.62" fill="#000064"/>
<rect x="233.34" y="853.07" width="25.04" height="10.62" fill="#00009a"/>
<rect x="259.78" y="853.07" width="24.84" height="10.62" fill="#000048"/>
<rect x="74.90" y="864.79" width="24.84" height="10.62" fill="#ff0000"/>
<rect x="101.14" y="864.79" width="25.04" height="10.62" fill="#ff0000"/>
<rect x="127.58" y="864.79" width="25.04" height="10.62" fill="#005af0"/>
<rect x="154.02" y="864.79" width="25.04" height="10.62" fill="#0006bf"/>
<rect x="180.46" y="864.79" width="25.04" height="10.62" fill="#00004d"/>
<rect x="206.90" y="864.79" width="25.04" height="10.62" fill="#0000b1"/>
<rect x="233.34" y="864.79" width="25.04" height="10.62" fill="#0096ff"/>
<rect x="259.78" y="864.79" width="24.84" height="10.62" fill="#0078fa"/>
<rect x="74.90" y="876.51" width="24.84" height="10.62" fill="#ff0000"/>
<rect x="101.14" y="876.51" width="25.04" height="10.62" fill="#ff0000"/>
<rect x="127.58" y="876.51" width="25.04" height="10.62" fill="#00d7d7"/>
<rect x="154.02" y="876.51" width="25.04" height="10.62" fill="#00ee96"/>
<rect x="180.46" y="876.51" width="25.04" height="10.62" fill="#0000b6"/>
<rect x="206.90" y="876.51" width="25.04" height="10.62" fill="#000088"/>
<rect x="233.34" y="876.51" width="25.04" height="10.62" fill="#0006bf"/>
<rect x="259.78" y="876.51" width="24.84" height="10.62" fill="#ff0000"/>
<rect x="74.90" y="888.23" width="24.84" height="10.62" fill="#ff0000"/>
<rect x="101.14" y="888.23" width="25.04" height="10.62" fill="#ff0000"/>
<rect x="127.58" y="888.23" width="25.04" height="10.62" fill="#ff0000"/>
<rect x="154.02" y="888.23" width="25.04" height="10.62" fill="#ff5f00"/>
<rect x="180.46" y="888.23" width="25.04" height="10.62" fill="#0006bf"/>
<rect x="206.90" y="888.23" width="25.04" height="10.62" fill="#0096ff"/>
<rect x="233.34" y="888.23" width="25.04" height="10.62" fill="#ff0000"/>
<rect x="259.78" y="888.23" width="24.84" height="10.62" fill="#ff0000"/>
<rect x="74.90" y="899.95" width="24.84" height="10.62" fill="#ff0000"/>
<rect x="101.14" y="899.95" width="25.04" height="10.62" fill="#ff0000"/>
<rect x="127.58" y="899.95" width="25.04" height="10.62" fill="#0006ba"/>
<rect x="154.02" y="899.95" width="25.04" height="10.62" fill="#0000a3"/>
<rect x="180.46" y="899.95" width="25.04" height="10.62" fill="#00004d"/>
<rect x="206.90" y="899.95" width="25.04" height="10.62" fill="#a0e61e"/>
<rect x="233.34" y="899.95" width="25.04" height="10.62" fill="#00e1c3"/>
<rect x="259.78" y="899.95" width="24.84" height="10.62" fill="#f5a500"/>
<rect x="74.90" y="911.67" width="24.84" height="10.62" fill="#ff0000"/>
<rect x="101.14" y="911.67" width="25.04" height="10.62" fill="#ff0000"/>
<rect x="127.58" y="911.67" width="25.04" height="10.62" fill="#0078fa"/>
<rect x="154.02" y="911.67" width="25.04" height="10.62" fill="#0000ba"/>
<rect x="180.46" y="911.67" width="25.04" height="10.62" fill="#0000a3"/>
<rect x="206.90" y="911.67" width="25.04" height="10.62" fill="#0000ac"/>
<rect x="233.34" y="911.67" width="25.04" height="10.62" fill="#0000ac"/>
<rect x="259.78" y="911.67" width="24.84" height="10.62" fill="#00f287"/>
<rect x="74.90" y="923.39" width="24.84" height="10.62" fill="#ff0000"/>
<rect x="101.14" y="923.39" width="25.04" height="10.62" fill="#ff0000"/>
<rect x="127.58" y="923.39" width="25.04" height="10.62" fill="#0006c3"/>
<rect x="154.02" y="923.39" width="25.04" height="10.62" fill="#0000ac"/>
<rect x="180.46" y="923.39" width="25.04" height="10.62" fill="#000076"/>
<rect x="206.90" y="923.39" width="25.04" height="10.62" fill="#0000ac"/>
<rect x="233.34" y="923.39" width="25.04" height="10.62" fill="#0000a3"/>
<rect x="259.78" y="923.39" width="24.84" height="10.62" fill="#00e6af"/>
<rect x="74.90" y="935.11" width="24.84" height="10.62" fill="#82eb28"/>
<rect x="101.14" y="935.11" width="25.04" height="10.62" fill="#d2cc08"/>
<rect x="127.58" y="935.11" width="25.04" height="10.62" fill="#f5a000"/>
<rect x="154.02" y="935.11" width="25.04" height="10.62" fill="#00f287"/>
<rect x="180.46" y="935.11" width="25.04" height="10.62" fill="#0082fa"/>
<rect x="206.90" y="935.11" width="25.04" height="10.62" fill="#00aafa"/>
<rect x="233.34" y="935.11" width="25.04" height="10.62" fill="#ff0000"/>
<rect x="259.78" y="935.11" width="24.84" height="10.62" fill="#00a5fa"/>
<rect x="74.90" y="946.83" width="24.84" height="10.62" fill="#ff0000"/>
<rect x="101.14" y="946.83" width="25.04" height="10.62" fill="#64f032"/>
<rect x="127.58" y="946.83" width="25.04" height="10.62" fill="#0000a8"/>
<rect x="154.02" y="946.83" width="25.04" height="10.62" fill="#0006bf"/>
<rect x="180.46" y="946.83" width="25.04" height="10.62" fill="#0000b1"/>
<rect x="206.90" y="946.83" width="25.04" height="10.62" fill="#00005b"/>
<rect x="233.34" y="946.83" width="25.04" height="10.62" fill="#0006bf"/>
<rect x="259.78" y="946.83" width="24.84" height="10.62" fill="#00004d"/>
<rect x="74.90" y="958.55" width="24.84" height="10.62" fill="#f5a500"/>
<rect x="101.14" y="958.55" width="25.04" height="10.62" fill="#ff0000"/>
<rect x="127.58" y="958.55" width="25.04" height="10.62" fill="#0046eb"/>
<rect x="154.02" y="958.55" width="25.04" height="10.62" fill="#0082fa"/>
<rect x="180.46" y="958.55" width="25.04" height="10.62" fill="#0000b6"/>
<rect x="206.90" y="958.55" width="25.04" height="10.62" fill="#0000ac"/>
<rect x="233.34" y="958.55" width="25.04" height="10.62" fill="#00e1be"/>
<rect x="259.78" y="958.55" width="24.84" height="10.62" fill="#00b9f0"/>
<rect x="74.90" y="970.27" width="24.84" height="10.62" fill="#ff0000"/>
<rect x="101.14" y="970.27" width="25.04" height="10.62" fill="#ff0000"/>
<rect x="127.58" y="970.27" width="25.04" height="10.62" fill="#0000a8"/>
<rect x="154.02" y="970.27" width="25.04" height="10.62" fill="#0000b1"/>
<rect x="180.46" y="970.27" width="25.04" height="10.62" fill="#0000a3"/>
<rect x="206.90" y="970.27" width="25.04" height="10.62" fill="#0078fa"/>
<rect x="233.34" y="970.27" width="25.04" height="10.62" fill="#0082fa"/>
<rect x="259.78" y="970.27" width="24.84" height="10.62" fill="#0000ac"/>
<rect x="74.90" y="981.99" width="24.84" height="10.62" fill="#ff0000"/>
<rect x="101.14" y="981.99" width="25.04" height="10.62" fill="#ff0000"/>
<rect x="127.58" y="981.99" width="25.04" height="10.62" fill="#0078fa"/>
<rect x="154.02" y="981.99" width="25.04" height="10.62" fill="#0000ac"/>
<rect x="180.46" y="981.99" width="25.04" height="10.62" fill="#000088"/>
<rect x="206.90" y="981.99" width="25.04" height="10.62" fill="#00005b"/>
<rect x="233.34" y="981.99" width="25.04" height="10.62" fill="#0000a3"/>
<rect x="259.78" y="981.99" width="24.84" height="10.62" fill="#000088"/>
<rect x="74.90" y="993.71" width="24.84" height="10.62" fill="#00f08c"/>
<rect x="101.14" y="993.71" width="25.04" height="10.62" fill="#ff0000"/>
<rect x="127.58" y="993.71" width="25.04" height="10.62" fill="#000064"/>
<rect x="154.02" y="993.71" width="25.04" height="10.62" fill="#000088"/>
<rect x="180.46" y="993.71" width="25.04" height="10.62" fill="#00004d"/>
<rect x="206.90" y="993.71" width="25.04" height="10.62" fill="#000096"/>
<rect x="233.34" y="993.71" width="25.04" height="10.62" fill="#000056"/>
<rect x="259.78" y="993.71" width="24.84" height="10.62" fill="#3cf550"/>
<rect x="74.90" y="1005.43" width="24.84" height="10.62" fill="#00e6b4"/>
<rect x="101.14" y="1005.43" width="25.04" height="10.62" fill="#ff0000"/>
<rect x="127.58" y="1005.43" width="25.04" height="10.62" fill="#000091"/>
<rect x="154.02" y="1005.43" width="25.04" height="10.62" fill="#00009f"/>
<rect x="180.46" y="1005.43" width="25.04" height="10.62" fill="#00005b"/>
<rect x="206.90" y="1005.43" width="25.04" height="10.62" fill="#0000ac"/>
<rect x="233.34" y="1005.43" width="25.04" height="10.62" fill="#000091"/>
<rect x="259.78" y="1005.43" width="24.84" height="10.62" fill="#00f082"/>
<rect x="74.90" y="1017.15" width="24.84" height="10.62" fill="#00cde1"/>
<rect x="101.14" y="1017.15" width="25.04" height="10.62" fill="#00e6b9"/>
<rect x="127.58" y="1017.15" width="25.04" height="10.62" fill="#dcd70a"/>
<rect x="154.02" y="1017.15" width="25.04" height="10.62" fill="#00005b"/>
<rect x="180.46" y="1017.15" width="25.04" height="10.62" fill="#00009f"/>
<rect x="206.90" y="1017.15" width="25.04" height="10.62" fill="#00005b"/>
<rect x="233.34" y="1017.15" width="25.04" height="10.62" fill="#0000a3"/>
<rect x="259.78" y="1017.15" width="24.84" height="10.62" fill="#f5aa00"/>
<rect x="74.90" y="1028.87" width="24.84" height="10.62" fill="#00c8e6"/>
<rect x="101.14" y="1028.87" width="25.04" height="10.62" fill="#00b4f5"/>
<rect x="127.58" y="1028.87" width="25.04" height="10.62" fill="#00008d"/>
<rect x="154.02" y="1028.87" width="25.04" height="10.62" fill="#000056"/>
<rect x="180.46" y="1028.87" width="25.04" height="10.62" fill="#0000a8"/>
<rect x="206.90" y="1028.87" width="25.04" height="10.62" fill="#00005b"/>
<rect x="233.34" y="1028.87" width="25.04" height="10.62" fill="#0000b1"/>
<rect x="259.78" y="1028.87" width="24.84" height="10.62" fill="#000096"/>
<rect x="74.90" y="1040.59" width="24.84" height="10.62" fill="#3cf546"/>
<rect x="101.14" y="1040.59" width="25.04" height="10.62" fill="#00e1c3"/>
<rect x="127.58" y="1040.59" width="25.04" height="10.62" fill="#000051"/>
<rect x="154.02" y="1040.59" width="25.04" height="10.62" fill="#00006d"/>
<rect x="180.46" y="1040.59" width="25.04" height="10.62" fill="#00005b"/>
<rect x="206.90" y="1040.59" width="25.04" height="10.62" fill="#000056"/>
<rect x="233.34" y="1040.59" width="25.04" height="10.62" fill="#000064"/>
<rect x="259.78" y="1040.59" width="24.84" height="10.62" fill="#000091"/>
<rect x="74.90" y="1052.31" width="24.84" height="10.62" fill="#46f53c"/>
<rect x="101.14" y="1052.31" width="25.04" height="10.62" fill="#00f08c"/>
<rect x="127.58" y="1052.31" width="25.04" height="10.62" fill="#0000b1"/>
<rect x="154.02" y="1052.31" width="25.04" height="10.62" fill="#0006c3"/>
<rect x="180.46" y="1052.31" width="25.04" height="10.62" fill="#0000a8"/>
<rect x="206.90" y="1052.31" width="25.04" height="10.62" fill="#000064"/>
<rect x="233.34" y="1052.31" width="25.04" height="10.62" fill="#000083"/>
<rect x="259.78" y="1052.31" width="24.84" height="10.62" fill="#0082fa"/>
<rect x="74.90" y="1064.03" width="24.84" height="10.62" fill="#00f08c"/>
<rect x="101.14" y="1064.03" width="25.04" height="10.62" fill="#00e1c3"/>
<rect x="127.58" y="1064.03" width="25.04" height="10.62" fill="#0082fa"/>
<rect x="154.02" y="1064.03" width="25.04" height="10.62" fill="#0006c3"/>
<rect x="180.46" y="1064.03" width="25.04" height="10.62" fill="#00009f"/>
<rect x="206.90" y="1064.03" width="25.04" height="10.62" fill="#0000a8"/>
<rect x="233.34" y="1064.03" width="25.04" height="10.62" fill="#0096ff"/>
<rect x="259.78" y="1064.03" width="24.84" height="10.62" fill="#0078fa"/>
<rect x="74.90" y="1075.75" width="24.84" height="10.62" fill="#0096ff"/>
<rect x="101.14" y="1075.75" width="25.04" height="10.62" fill="#0078fa"/>
<rect x="127.58" y="1075.75" width="25.04" height="10.62" fill="#0050f0"/>
<rect x="154.02" y="1075.75" width="25.04" height="10.62" fill="#0000b1"/>
<rect x="180.46" y="1075.75" width="25.04" height="10.62" fill="#0000ac"/>
<rect x="206.90" y="1075.75" width="25.04" height="10.62" fill="#0000a8"/>
<rect x="233.34" y="1075.75" width="25.04" height="10.62" fill="#0006c3"/>
<rect x="259.78" y="1075.75" width="24.84" height="10.62" fill="#00e1be"/>
<rect x="74.90" y="1087.47" width="24.84" height="10.62" fill="#0000ba"/>
<rect x="101.14" y="1087.47" width="25.04" height="10.62" fill="#00004d"/>
<rect x="127.58" y="1087.47" width="25.04" height="10.62" fill="#008cff"/>
<rect x="154.02" y="1087.47" width="25.04" height="10.62" fill="#0000b6"/>
<rect x="180.46" y="1087.47" width="25.04" height="10.62" fill="#000076"/>
<rect x="206.90" y="1087.47" width="25.04" height="10.62" fill="#000064"/>
<rect x="233.34" y="1087.47" width="25.04" height="10.62" fill="#0000b1"/>
<rect x="259.78" y="1087.47" width="24.84" height="10.62" fill="#0000a3"/>
<rect x="74.90" y="1099.19" width="24.84" height="10.62" fill="#006efa"/>
<rect x="101.14" y="1099.19" width="25.04" height="10.62" fill="#003ce6"/>
<rect x="127.58" y="1099.19" width="25.04" height="10.62" fill="#0006bf"/>
<rect x="154.02" y="1099.19" width="25.04" height="10.62" fill="#0000ac"/>
<rect x="180.46" y="1099.19" width="25.04" height="10.62" fill="#00009f"/>
<rect x="206.90" y="1099.19" width="25.04" height="10.62" fill="#000064"/>
<rect x="233.34" y="1099.19" width="25.04" height="10.62" fill="#0000a8"/>
<rect x="259.78" y="1099.19" width="24.84" height="10.62" fill="#00005b"/>
<rect x="74.90" y="1110.91" width="24.84" height="10.62" fill="#0000b6"/>
<rect x="101.14" y="1110.91" width="25.04" height="10.62" fill="#0000ac"/>
<rect x="127.58" y="1110.91" width="25.04" height="10.62" fill="#0000b1"/>
<rect x="154.02" y="1110.91" width="25.04" height="10.62" fill="#00007f"/>
<rect x="180.46" y="1110.91" width="25.04" height="10.62" fill="#000088"/>
<rect x="206.90" y="1110.91" width="25.04" height="10.62" fill="#00005b"/>
<rect x="233.34" y="1110.91" width="25.04" height="10.62" fill="#0000a3"/>
<rect x="259.78" y="1110.91" width="24.84" height="10.62" fill="#000088"/>
<rect x="74.90" y="1122.63" width="24.84" height="10.62" fill="#0000ac"/>
<rect x="101.14" y="1122.63" width="25.04" height="10.62" fill="#000096"/>
<rect x="127.58" y="1122.63" width="25.04" height="10.62" fill="#0000ac"/>
<rect x="154.02" y="1122.63" width="25.04" height="10.62" fill="#000064"/>
<rect x="180.46" y="1122.63" width="25.04" height="10.62" fill="#000076"/>
<rect x="206.90" y="1122.63" width="25.04" height="10.62" fill="#00005b"/>
<rect x="233.34" y="1122.63" width="25.04" height="10.62" fill="#000096"/>
<rect x="259.78" y="1122.63" width="24.84" height="10.62" fill="#000076"/>
<rect x="74.90" y="1134.35" width="24.84" height="10.62" fill="#0000a3"/>
<rect x="101.14" y="1134.35" width="25.04" height="10.62" fill="#000096"/>
<rect x="127.58" y="1134.35" width="25.04" height="10.62" fill="#0000ac"/>
<rect x="154.02" y="1134.35" width="25.04" height="10.62" fill="#000056"/>
<rect x="180.46" y="1134.35" width="25.04" height="10.62" fill="#00007a"/>
<rect x="206.90" y="1134.35" width="25.04" height="10.62" fill="#000051"/>
<rect x="233.34" y="1134.35" width="25.04" height="10.62" fill="#00007f"/>
<rect x="259.78" y="1134.35" width="24.84" height="10.62" fill="#000051"/>
<rect x="74.90" y="1146.07" width="24.84" height="10.62" fill="#0000b6"/>
<rect x="101.14" y="1146.07" width="25.04" height="10.62" fill="#00009a"/>
<rect x="127.58" y="1146.07" width="25.04" height="10.62" fill="#00005b"/>
<rect x="154.02" y="1146.07" width="25.04" height="10.62" fill="#00009f"/>
<rect x="180.46" y="1146.07" width="25.04" height="10.62" fill="#000056"/>
<rect x="206.90" y="1146.07" width="25.04" height="10.62" fill="#00004d"/>
<rect x="233.34" y="1146.07" width="25.04" height="10.62" fill="#000056"/>
<rect x="259.78" y="1146.07" width="24.84" height="10.62" fill="#00004d"/>
<rect x="74.90" y="1157.79" width="24.84" height="10.62" fill="#0006c3"/>
<rect x="101.14" y="1157.79" width="25.04" height="10.62" fill="#000064"/>
<rect x="127.58" y="1157.79" width="25.04" height="10.62" fill="#000051"/>
<rect x="154.02" y="1157.79" width="25.04" height="10.62" fill="#00005b"/>
<rect x="180.46" y="1157.79" width="25.04" height="10.62" fill="#00004d"/>
<rect x="206.90" y="1157.79" width="25.04" height="10.62" fill="#00004d"/>
<rect x="233.34" y="1157.79" width="25.04" height="10.62" fill="#000064"/>
<rect x="259.78" y="1157.79" width="24.84" height="10.62" fill="#00004d"/>
<rect x="74.90" y="1169.51" width="24.84" height="10.62" fill="#0046eb"/>
<rect x="101.14" y="1169.51" width="25.04" height="10.62" fill="#00009f"/>
<rect x="127.58" y="1169.51" width="25.04" height="10.62" fill="#0006bf"/>
<rect x="154.02" y="1169.51" width="25.04" height="10.62" fill="#000088"/>
<rect x="180.46" y="1169.51" width="25.04" height="10.62" fill="#000051"/>
<rect x="206.90" y="1169.51" width="25.04" height="10.62" fill="#00006d"/>
<rect x="233.34" y="1169.51" width="25.04" height="10.62" fill="#0000a8"/>
<rect x="259.78" y="1169.51" width="24.84" height="10.62" fill="#008cff"/>
<rect x="74.90" y="1181.23" width="24.84" height="10.62" fill="#003ce6"/>
<rect x="101.14" y="1181.23" width="25.04" height="10.62" fill="#00a0ff"/>
<rect x="127.58" y="1181.23" width="25.04" height="10.62" fill="#0006c3"/>
<rect x="154.02" y="1181.23" width="25.04" height="10.62" fill="#000051"/>
<rect x="180.46" y="1181.23" width="25.04" height="10.62" fill="#000056"/>
<rect x="206.90" y="1181.23" width="25.04" height="10.62" fill="#ff1e00"/>
<rect x="233.34" y="1181.23" width="25.04" height="10.62" fill="#0078fa"/>
<rect x="259.78" y="1181.23" width="24.84" height="10.62" fill="#ff1e00"/>
<rect x="74.90" y="1192.95" width="24.84" height="10.62" fill="#0000b6"/>
<rect x="101.14" y="1192.95" width="25.04" height="10.62" fill="#008cff"/>
<rect x="127.58" y="1192.95" width="25.04" height="10.62" fill="#00c8e6"/>
<rect x="154.02" y="1192.95" width="25.04" height="10.62" fill="#000088"/>
<rect x="180.46" y="1192.95" width="25.04" height="10.62" fill="#00006d"/>
<rect x="206.90" y="1192.95" width="25.04" height="10.62" fill="#00f08c"/>
<rect x="233.34" y="1192.95" width="25.04" height="10.62" fill="#0082fa"/>
<rect x="259.78" y="1192.95" width="24.84" height="10.62" fill="#00aafa"/>
<rect x="74.90" y="1204.67" width="24.84" height="10.62" fill="#00b4f0"/>
<rect x="101.14" y="1204.67" width="25.04" height="10.62" fill="#00f08c"/>
<rect x="127.58" y="1204.67" width="25.04" height="10.62" fill="#0000a8"/>
<rect x="154.02" y="1204.67" width="25.04" height="10.62" fill="#00009a"/>
<rect x="180.46" y="1204.67" width="25.04" height="10.62" fill="#000068"/>
<rect x="206.90" y="1204.67" width="25.04" height="10.62" fill="#a0e61e"/>
<rect x="233.34" y="1204.67" width="25.04" height="10.62" fill="#00a0ff"/>
<rect x="259.78" y="1204.67" width="24.84" height="10.62" fill="#00c8e6"/>
<rect x="74.90" y="1216.39" width="24.84" height="10.62" fill="#00b9f0"/>
<rect x="101.14" y="1216.39" width="25.04" height="10.62" fill="#00d7d7"/>
<rect x="127.58" y="1216.39" width="25.04" height="10.62" fill="#000088"/>
<rect x="154.02" y="1216.39" width="25.04" height="10.62" fill="#000051"/>
<rect x="180.46" y="1216.39" width="25.04" height="10.62" fill="#000051"/>
<rect x="206.90" y="1216.39" width="25.04" height="10.62" fill="#ff1e00"/>
<rect x="233.34" y="1216.39" width="25.04" height="10.62" fill="#00d7d7"/>
<rect x="259.78" y="1216.39" width="24.84" height="10.62" fill="#00d7d7"/>
<rect x="74.90" y="1228.11" width="24.84" height="10.62" fill="#0078fa"/>
<rect x="101.14" y="1228.11" width="25.04" height="10.62" fill="#96e61e"/>
<rect x="127.58" y="1228.11" width="25.04" height="10.62" fill="#005af0"/>
<rect x="154.02" y="1228.11" width="25.04" height="10.62" fill="#000051"/>
<rect x="180.46" y="1228.11" width="25.04" height="10.62" fill="#000051"/>
<rect x="206.90" y="1228.11" width="25.04" height="10.62" fill="#00cde1"/>
<rect x="233.34" y="1228.11" width="25.04" height="10.62" fill="#0096ff"/>
<rect x="259.78" y="1228.11" width="24.84" height="10.62" fill="#8ce61e"/>
<rect x="74.90" y="1239.83" width="24.84" height="10.92" fill="#ff0000"/>
<rect x="101.14" y="1239.83" width="25.04" height="10.92" fill="#ff0000"/>
<rect x="127.58" y="1239.83" width="25.04" height="10.92" fill="#ff0000"/>
<rect x="154.02" y="1239.83" width="25.04" height="10.92" fill="#ff0000"/>
<rect x="180.46" y="1239.83" width="25.04" height="10.92" fill="#ff9600"/>
<rect x="206.90" y="1239.83" width="25.04" height="10.92" fill="#000088"/>
<rect x="233.34" y="1239.83" width="25.04" height="10.92" fill="#ff0000"/>
<rect x="259.78" y="1239.83" width="24.84" height="10.92" fill="#0078fa"/>
</g>
<path d="M87.7 724.0L87.7 782.0M87.7 724.0L156.9 724.0M156.9 724.0L156.9 752.1M114.0 752.1L199.8 752.1M114.0 752.1L114.0 782.0M199.8 752.1L199.8 766.6M160.6 766.6L240.1 766.6M160.6 766.6L160.6 772.8M140.6 772.8L180.2 772.8M140.6 772.8L140.6 782.0M180.2 772.8L180.2 776.9M167.2 776.9L193.1 776.9M167.2 776.9L167.2 782.0M193.1 776.9L193.1 782.0M240.1 766.6L240.1 770.3M219.8 770.3L259.7 770.3M219.8 770.3L219.8 782.0M259.7 770.3L259.7 774.0M246.8 774.0L273.0 774.0M246.8 774.0L246.8 782.0M273.0 774.0L273.0 782.0" stroke="#4444a6" stroke-width="1.20" fill="none" opacity="1"/>
<path d="M47.5 788.1L74.0 788.1M47.5 799.8L74.0 799.8M47.5 788.1L47.5 799.8M8.4 794.0L47.5 794.0M8.4 794.0L8.4 936.4M8.4 936.4L33.6 936.4M33.6 811.5L33.6 1062.1M33.6 811.5L74.0 811.5M63.0 823.2L74.0 823.2M63.0 834.9L74.0 834.9M63.0 823.2L63.0 834.9M56.3 829.7L63.0 829.7M56.3 829.7L56.3 852.7M60.7 846.7L74.0 846.7M60.7 858.4L74.0 858.4M60.7 846.7L60.7 858.4M56.3 852.7L60.7 852.7M52.9 841.2L56.3 841.2M52.9 841.2L52.9 916.4M66.7 870.1L74.0 870.1M66.7 870.1L66.7 888.0M70.5 881.8L74.0 881.8M70.5 893.5L74.0 893.5M70.5 881.8L70.5 893.5M66.7 888.0L70.5 888.0M63.5 879.2L66.7 879.2M63.5 879.2L63.5 954.0M45.4 878.7L52.9 878.7M45.8 878.7L45.8 1245.5M52.9 916.4L63.5 916.4M63.5 954.0L69.8 954.0M69.8 914.7L69.8 1040.0M33.6 1062.1L45.8 1062.1M45.8 1245.1L74.0 1245.1" stroke="#4444a6" stroke-width="1.20" fill="none" opacity="1"/>
<path d="M72.3 905.3L72.3 928.7M72.3 905.3L74.0 905.3M72.3 917.0L74.0 917.0M72.3 928.7L74.0 928.7M69.8 914.7L72.3 914.7M71.2 940.4L71.2 1230.0M72.6 960.0L72.6 1235.0M70.4 975.0L70.4 1000.0M73.2 1040.0L73.2 1238.0M72.8 940.4L74.0 940.4M72.8 952.1L74.0 952.1M72.8 963.9L74.0 963.9M72.8 975.6L74.0 975.6M72.8 987.3L74.0 987.3M72.8 999.0L74.0 999.0M72.8 1010.7L74.0 1010.7M72.8 1022.5L74.0 1022.5M72.8 1034.2L74.0 1034.2M72.8 1045.9L74.0 1045.9M72.8 1057.6L74.0 1057.6M72.8 1069.3L74.0 1069.3M72.8 1081.1L74.0 1081.1M72.8 1092.8L74.0 1092.8M72.8 1104.5L74.0 1104.5M72.8 1116.2L74.0 1116.2M72.8 1127.9L74.0 1127.9M72.8 1139.7L74.0 1139.7M72.8 1151.4L74.0 1151.4M72.8 1163.1L74.0 1163.1M72.8 1174.8L74.0 1174.8M72.8 1186.5L74.0 1186.5M72.8 1198.3L74.0 1198.3M72.8 1210.0L74.0 1210.0M72.8 1221.7L74.0 1221.7M72.8 1233.4L74.0 1233.4" stroke="#4444a6" stroke-width="1.20" fill="none" opacity="1"/>
<path d="M70.6 965.0L70.6 990.0" stroke="#1a1aa0" stroke-width="2.20" fill="none" opacity="1"/>
<path d="M8.3 779.1L74.4 779.1M8.8 776.0L8.8 779.1M40.8 776.0L40.8 779.1M73.9 776.0L73.9 779.1" stroke="#2a2a2a" stroke-width="1.00" fill="none" opacity="1"/>
<text class="gr" transform="translate(15.1 772.7) rotate(-90)" font-size="8.7" textLength="29.3" lengthAdjust="spacingAndGlyphs">2.761991</text>
<text class="gr" transform="translate(44.1 772.7) rotate(-90)" font-size="8.7" textLength="34.3" lengthAdjust="spacingAndGlyphs">1.3809955</text>
<text class="gr" transform="translate(74.2 772.7) rotate(-90)" font-size="8.7" textLength="9.2" lengthAdjust="spacingAndGlyphs">0.0</text>
<path d="M307.6 722.8L307.6 779.0M307.6 722.8L310.8 722.8M307.6 750.9L310.8 750.9M307.6 779.0L310.8 779.0" stroke="#222" stroke-width="1.00" fill="none" opacity="1"/>
<text class="gr" x="314" y="729.0" font-size="6.9" textLength="33.8" lengthAdjust="spacingAndGlyphs">4.043276</text>
<text class="gr" x="314" y="753.9" font-size="6.9" textLength="33.8" lengthAdjust="spacingAndGlyphs">2.021638</text>
<text class="gr" x="314" y="780.3" font-size="6.9" textLength="11" lengthAdjust="spacingAndGlyphs">0.0</text>
<text x="310.9" y="791.9" font-size="11.3" class="bl" textLength="49.8" lengthAdjust="spacingAndGlyphs">MUCINS</text>
<text class="st" x="294.2" y="797.0" font-size="16">*</text>
<text x="310.9" y="803.7" font-size="11.3" class="bl" textLength="144.4" lengthAdjust="spacingAndGlyphs">GLYCINE RICH FAMILY</text>
<text class="st" x="294.2" y="809.3" font-size="16">*</text>
<text x="310.9" y="815.4" font-size="11.3" class="bl" textLength="76.4" lengthAdjust="spacingAndGlyphs">LIPOCALINS</text>
<text class="st" x="293.4" y="820.1" font-size="16">*</text>
<text x="310.9" y="827.2" font-size="11.3" class="bl" textLength="110.7" lengthAdjust="spacingAndGlyphs">KUNITZ DOMAINS</text>
<text x="310.9" y="838.9" font-size="11.3" class="bl" textLength="140.6" lengthAdjust="spacingAndGlyphs">METALLOPROTEASES</text>
<text x="310.9" y="850.6" font-size="11.3" class="bl" textLength="131.1" lengthAdjust="spacingAndGlyphs">SERINE PROTEASES</text>
<text class="st" x="294.2" y="856.0" font-size="16">*</text>
<text x="310.9" y="862.4" font-size="11.3" class="bl" textLength="247.3" lengthAdjust="spacingAndGlyphs">IMMUNOGLOBULIN BINDING PROTEINS</text>
<text class="st" x="293.4" y="867.2" font-size="16">*</text>
<text x="310.9" y="874.1" font-size="11.3" class="bl" textLength="83.6" lengthAdjust="spacingAndGlyphs">TIL DOMAINS</text>
<text x="310.9" y="885.8" font-size="11.3" class="bl" textLength="120.1" lengthAdjust="spacingAndGlyphs">ANTIGEN 5 FAMILY</text>
<text class="st" x="294.2" y="891.2" font-size="16">*</text>
<text x="310.9" y="897.6" font-size="11.3" class="bl" textLength="170.4" lengthAdjust="spacingAndGlyphs">ANTIMICROBIAL PEPTIDES</text>
<text class="st" x="294.2" y="901.5" font-size="16">*</text>
<text x="310.9" y="909.3" font-size="11.3" class="bl" textLength="55.4" lengthAdjust="spacingAndGlyphs">EVASINS</text>
<text x="310.9" y="921.1" font-size="11.3" class="bl" textLength="64.2" lengthAdjust="spacingAndGlyphs">CYSTATIN</text>
<text x="310.9" y="932.8" font-size="11.3" class="bl" textLength="166.6" lengthAdjust="spacingAndGlyphs">BASIC TAIL SUPERFAMILY</text>
<text x="310.9" y="944.5" font-size="11.3" class="bl" textLength="47.1" lengthAdjust="spacingAndGlyphs">SERPIN</text>
<text class="st" x="293.4" y="947.9" font-size="16">*</text>
<text x="310.9" y="956.3" font-size="11.3" class="bl" textLength="135.6" lengthAdjust="spacingAndGlyphs">TRANSGLUTAMINASE</text>
<text x="310.9" y="968.0" font-size="11.3" class="bl" textLength="114.0" lengthAdjust="spacingAndGlyphs">5' NUCLEOTIDASE</text>
<text x="310.9" y="979.7" font-size="11.3" class="bl" textLength="197.0" lengthAdjust="spacingAndGlyphs">SERINE CARBOXYPEPTIDASES</text>
<text x="310.9" y="991.5" font-size="11.3" class="bl" textLength="177.1" lengthAdjust="spacingAndGlyphs">SECRETED GLYCOSIDASES</text>
<text x="310.9" y="1003.2" font-size="11.3" class="bl" textLength="205.8" lengthAdjust="spacingAndGlyphs">CARBOXYPEPTIDASE INHIBITOR</text>
<text x="310.9" y="1015.0" font-size="11.3" class="bl" textLength="158.3" lengthAdjust="spacingAndGlyphs">ACID TAIL SUPERFAMILY</text>
<text x="310.9" y="1026.7" font-size="11.3" class="bl" textLength="236.8" lengthAdjust="spacingAndGlyphs">DIPEPTIDYL-PEPTIDASE / M2 FAMILY</text>
<text x="310.9" y="1038.4" font-size="11.3" class="bl" textLength="67.0" lengthAdjust="spacingAndGlyphs">LEGUMAIN</text>
<text x="310.9" y="1050.2" font-size="11.3" class="bl" textLength="166.0" lengthAdjust="spacingAndGlyphs">LIPASES AND ESTERASES</text>
<text x="310.9" y="1061.9" font-size="11.3" class="bl" textLength="118.4" lengthAdjust="spacingAndGlyphs">IXODERIN/FICOLIN</text>
<text x="310.9" y="1073.6" font-size="11.3" class="bl" textLength="175.9" lengthAdjust="spacingAndGlyphs">ML - NIEMANN-PICK FAMILY</text>
<text x="310.9" y="1085.4" font-size="11.3" class="bl" textLength="119.0" lengthAdjust="spacingAndGlyphs">ENDOPEPTIDASES</text>
<text class="st" x="294.1" y="1089.8" font-size="16">*</text>
<text x="310.9" y="1097.1" font-size="11.3" class="bl" textLength="74.7" lengthAdjust="spacingAndGlyphs">THYROPINS</text>
<text x="310.9" y="1108.8" font-size="11.3" class="bl" textLength="338.0" lengthAdjust="spacingAndGlyphs">CATHEPSIN (ASPARTYL AND CYSTEINE PROTEASES)</text>
<text class="st" x="294.1" y="1113.7" font-size="16">*</text>
<text x="310.9" y="1120.6" font-size="11.3" class="bl" textLength="321.4" lengthAdjust="spacingAndGlyphs">PHOSPHATIDYLETHANOLAMINE-BINDING PROTEIN</text>
<text x="310.9" y="1132.3" font-size="11.3" class="bl" textLength="213.0" lengthAdjust="spacingAndGlyphs">DSRNA-SPECIFIC RIBONUCLEASE</text>
<text x="310.9" y="1144.1" font-size="11.3" class="bl" textLength="175.9" lengthAdjust="spacingAndGlyphs">RIBONUCLEASE. T2 FAMILY</text>
<text x="310.9" y="1155.8" font-size="11.3" class="bl" textLength="258.9" lengthAdjust="spacingAndGlyphs">SPHINGOMYELIN PHOSPHODIESTERASE</text>
<text x="310.9" y="1167.5" font-size="11.3" class="bl" textLength="301.5" lengthAdjust="spacingAndGlyphs">PROKINETICIN DOMAIN-CONTAINING PEPTIDES</text>
<text x="310.9" y="1179.3" font-size="11.3" class="bl" textLength="103.5" lengthAdjust="spacingAndGlyphs">SALP-15 FAMILY</text>
<text x="310.9" y="1191.0" font-size="11.3" class="bl" textLength="79.2" lengthAdjust="spacingAndGlyphs">CHIMADANIN</text>
<text x="310.9" y="1202.7" font-size="11.3" class="bl" textLength="249.0" lengthAdjust="spacingAndGlyphs">KAZAL DOMAIN CONTAINING PEPTIDES</text>
<text x="310.9" y="1214.5" font-size="11.3" class="bl" textLength="158.3" lengthAdjust="spacingAndGlyphs">DEOXYRIBONUCLEASE II</text>
<text x="310.9" y="1226.2" font-size="11.3" class="bl" textLength="250.6" lengthAdjust="spacingAndGlyphs">DAP-36 IMMUNOSUPPRESSANT FAMILY</text>
<text x="310.9" y="1238.0" font-size="11.3" class="bl" textLength="99.6" lengthAdjust="spacingAndGlyphs">8.9 KDA FAMILY</text>
<text x="310.9" y="1249.7" font-size="11.3" class="bl" textLength="96.9" lengthAdjust="spacingAndGlyphs">10 KDA FAMILY</text>
</svg></body></html>
